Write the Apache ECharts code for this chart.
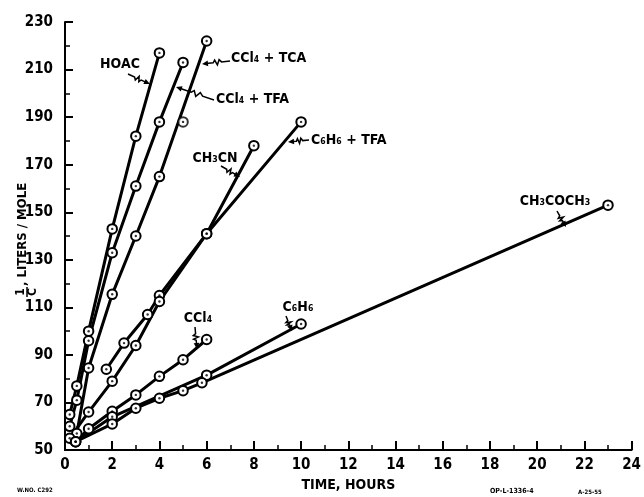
<!DOCTYPE html>
<html><head><meta charset="utf-8">
<script src="https://cdn.jsdelivr.net/npm/echarts@6/dist/echarts.min.js"></script>
<style>html,body{margin:0;padding:0;background:#fff}#c{width:644px;height:497px}</style>
</head><body><div id="c"></div>
<script>
// ---- data (hours, 1/C liters/mole) ----
const hoacX = [0.2, 0.5, 1, 2, 3, 4];
const hoacY = [65, 77, 100, 143, 182, 217];
const tfaX = [0.2, 0.5, 1, 2, 3, 4, 5];
const tfaY = [60, 71, 96, 133, 161, 188, 213];
const tcaX = [0.5, 1, 2, 3, 4, 6];
const tcaY = [57, 84.5, 115.5, 140, 165, 222];
const tcaExtraX = [5];
const tcaExtraY = [188];
const ch3cnX = [1.75, 2.5, 3.5, 4, 6, 8];
const ch3cnY = [84, 95, 107, 115, 141, 178];
const c6h6tfaX = [0.2, 1, 2, 3, 4, 6, 10];
const c6h6tfaY = [55, 66, 79, 94, 112.5, 141, 188];
const ccl4X = [0.45, 1, 2, 3, 4, 5, 6];
const ccl4Y = [53.5, 59, 66.3, 73.2, 81, 88, 96.5];
const c6h6X = [0.45, 2, 6, 10];
const c6h6Y = [53.5, 64, 81.5, 103];
const acetoneX = [0.45, 2, 3, 4, 5, 5.8, 23];
const acetoneY = [53.5, 61, 67.6, 71.8, 75, 78.3, 153];
const xMin = 0, xMax = 24, xStep = 2;
const yMin = 50, yMax = 230, yStep = 20;

const F = '"DejaVu Sans Condensed", "DejaVu Sans", sans-serif';
const pair = (xs, ys) => xs.map((v, i) => [v, ys[i]]);
const sets = [
  ['HOAC', hoacX, hoacY, true],
  ['CCl4 + TFA', tfaX, tfaY, true],
  ['CCl4 + TCA', tcaX, tcaY, true],
  ['TCA extra', tcaExtraX, tcaExtraY, false],
  ['CH3CN', ch3cnX, ch3cnY, true],
  ['C6H6 + TFA', c6h6tfaX, c6h6tfaY, true],
  ['CCl4', ccl4X, ccl4Y, true],
  ['C6H6', c6h6X, c6h6Y, true],
  ['CH3COCH3', acetoneX, acetoneY, true]
];
const series = [];
sets.forEach(([name, xs, ys, isLine]) => {
  series.push({
    name, type: isLine ? 'line' : 'scatter', data: pair(xs, ys),
    symbol: 'emptyCircle', symbolSize: 9.5, z: 3,
    lineStyle: { color: '#000', width: 3 },
    itemStyle: { color: '#000', borderColor: '#000', borderWidth: 1.6 },
    emphasis: { disabled: true }, animation: false
  });
  series.push({
    name: name + ' dot', type: 'scatter', data: pair(xs, ys),
    symbol: 'circle', symbolSize: 2.4, z: 5,
    itemStyle: { color: '#000' }, animation: false
  });
});

const chart = echarts.init(document.getElementById('c'), null, { renderer: 'canvas' });
chart.setOption({
  animation: false,
  backgroundColor: '#fff',
  grid: { left: 65, right: 8, top: 22, bottom: 43 },
  xAxis: {
    type: 'value', min: xMin, max: xMax, interval: xStep,
    axisLine: { lineStyle: { color: '#000', width: 2 } },
    axisTick: { inside: true, length: 9, lineStyle: { color: '#000', width: 2 } },
    minorTick: { show: true, splitNumber: 2, length: 5, lineStyle: { color: '#000', width: 1.5 } },
    splitLine: { show: false },
    axisLabel: { color: '#000', fontFamily: F, fontWeight: 'bold', fontSize: 15, margin: 8 },
    name: 'TIME, HOURS', nameLocation: 'middle', nameGap: 26,
    nameTextStyle: { color: '#000', fontFamily: F, fontWeight: 'bold', fontSize: 14 }
  },
  yAxis: {
    type: 'value', min: yMin, max: yMax, interval: yStep,
    axisLine: { show: true, lineStyle: { color: '#000', width: 2 } },
    axisTick: { show: true, inside: true, length: 8, lineStyle: { color: '#000', width: 2 } },
    minorTick: { show: true, splitNumber: 2, length: 5, lineStyle: { color: '#000', width: 1.5 } },
    splitLine: { show: false },
    axisLabel: { color: '#000', fontFamily: F, fontWeight: 'bold', fontSize: 15, margin: 12 }
  },
  series
});

// ---- annotations (pixel layout) ----
function leader(S, T) {
  const dx = T[0] - S[0], dy = T[1] - S[1];
  const L = Math.hypot(dx, dy), ux = dx / L, uy = dy / L, px = -uy, py = ux;
  const at = (t, a) => [S[0] + dx * t + px * a, S[1] + dy * t + py * a];
  const a = 2.5;
  const pts = [S, at(0.3, 0), at(0.38, a), at(0.46, -a), at(0.54, a), at(0.6, 0), [T[0] - ux * 4, T[1] - uy * 4]];
  const head = [T, [T[0] - ux * 6 + px * 2.8, T[1] - uy * 6 + py * 2.8], [T[0] - ux * 6 - px * 2.8, T[1] - uy * 6 - py * 2.8]];
  return [
    { type: 'polyline', shape: { points: pts }, style: { stroke: '#000', lineWidth: 1.5, fill: null }, z: 10 },
    { type: 'polygon', shape: { points: head }, style: { fill: '#000' }, z: 10 }
  ];
}
function label(text, x, y, align) {
  return { type: 'text', x, y, z: 10, style: { text, fill: '#000', font: 'bold 14px ' + F, align: align || 'center', verticalAlign: 'middle' } };
}
const g = [];
g.push(label('HOAC', 120, 64));
g.push(...leader([128, 74], [150, 84]));
g.push(label('CCl₄ + TCA', 231, 58, 'left'));
g.push(...leader([230, 61], [202, 64]));
g.push(label('CCl₄ + TFA', 216, 99, 'left'));
g.push(...leader([214, 100], [176, 87]));
g.push(label('CH₃CN', 215, 158));
g.push(...leader([221, 166], [240, 177]));
g.push(label('C₆H₆ + TFA', 311, 140, 'left'));
g.push(...leader([309, 140], [288, 142]));
g.push(label('CCl₄', 198, 318));
g.push(...leader([195, 327], [197, 349]));
g.push(label('C₆H₆', 298, 307));
g.push(...leader([286, 316], [292, 331]));
g.push(label('CH₃COCH₃', 555, 201));
g.push(...leader([557, 211], [566, 227]));

// y-axis title with fraction 1/C
g.push({
  type: 'group', x: 26, y: 245, rotation: Math.PI / 2,
  children: [
    { type: 'text', x: -47, y: -5, style: { text: '1', fill: '#000', font: 'bold 12px ' + F, align: 'center', verticalAlign: 'middle' } },
    { type: 'line', shape: { x1: -52, y1: 1, x2: -42, y2: 1 }, style: { stroke: '#000', lineWidth: 1.5 } },
    { type: 'text', x: -47, y: 7, style: { text: 'C', fill: '#000', font: 'bold 12px ' + F, align: 'center', verticalAlign: 'middle' } },
    { type: 'text', x: -41, y: -3, style: { text: ', LITERS / MOLE', fill: '#000', font: 'bold 13px ' + F, align: 'left', verticalAlign: 'middle' } }
  ]
});
// small catalog notes
g.push({ type: 'text', x: 17, y: 490, style: { text: 'W.NO. C292', fill: '#000', font: 'bold 6px ' + F, verticalAlign: 'middle' } });
g.push({ type: 'text', x: 490, y: 491, style: { text: 'OP-L-1336-4', fill: '#000', font: 'bold 7px ' + F, verticalAlign: 'middle' } });
g.push({ type: 'text', x: 578, y: 492, style: { text: 'A-25-55', fill: '#000', font: 'bold 6px ' + F, verticalAlign: 'middle' } });
chart.setOption({ graphic: g });
</script>
</body></html>
